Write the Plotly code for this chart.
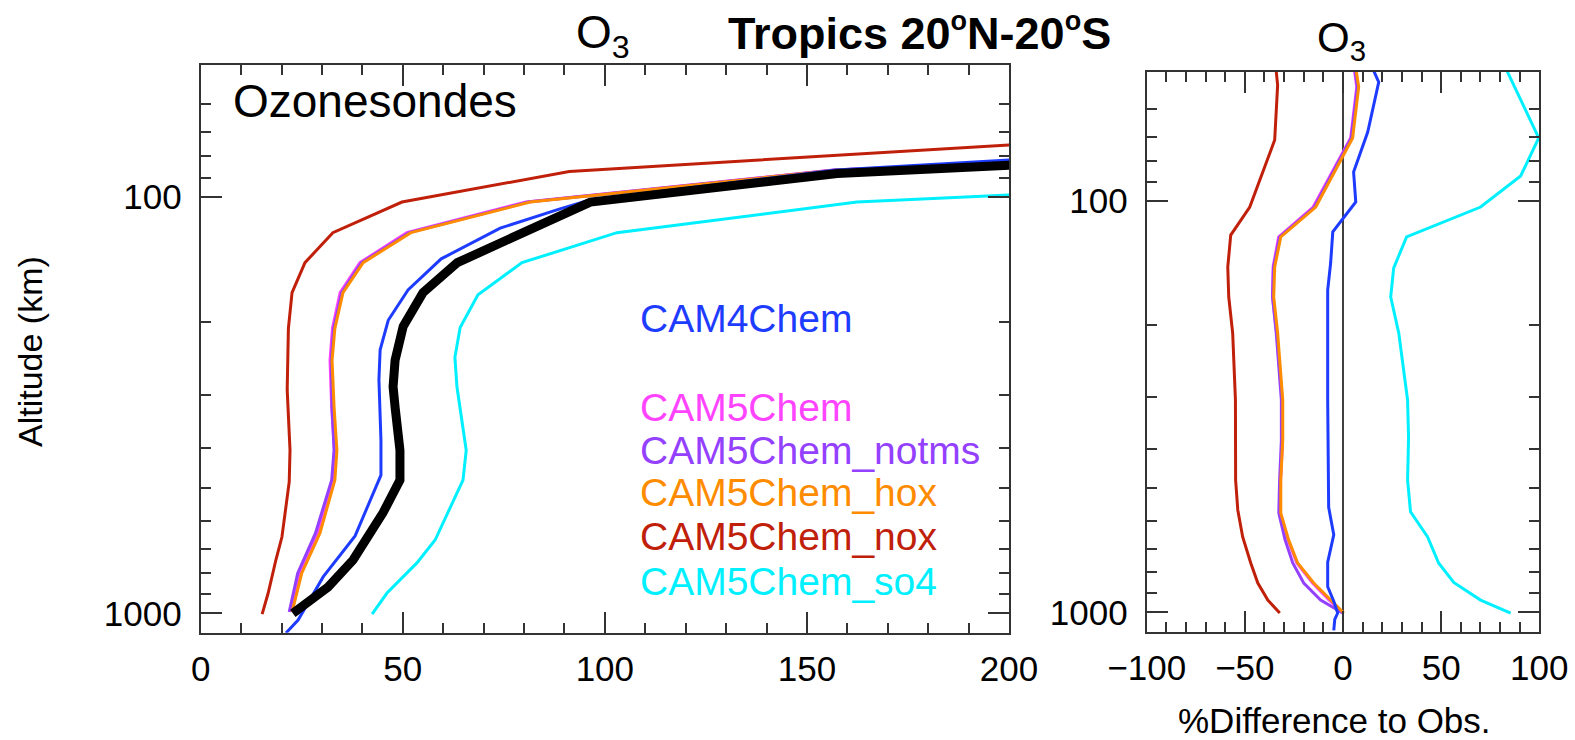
import plotly.graph_objects as go

# ---------------- data ----------------
# Left panel: O3 mixing ratio (ppb) versus pressure level (hPa)
obs_p  = [1000, 865, 745, 574, 479, 406, 320, 286, 247, 205, 170, 144, 103, 88, 84]
obs_o3 = [22.8, 31.5, 37.7, 45.1, 49.3, 49.3, 48.1, 47.6, 48.1, 50.1, 55.0, 63.5, 96.4, 157.5, 200.3]

cam4_p  = [1115, 1038, 818, 652, 466, 384, 275, 233, 198, 167.5, 141, 119, 107, 101.8, 86.3, 81.6]
cam4_o3 = [21.1, 24.1, 30.3, 38.2, 44.6, 44.6, 44.1, 44.4, 46.4, 51.3, 59.5, 74.1, 88.9, 96.3, 157.2, 200.3]

cam5_p      = [993, 801, 642, 479, 406, 320, 247, 207, 170, 144, 122, 103, 86.3, 83.0]
cam5_o3     = [22.3, 24.4, 28.9, 32.6, 33.1, 32.4, 32.0, 32.6, 34.5, 39.4, 51.0, 80.5, 156.5, 200.3]
notms_o3    = [21.9, 24.0, 28.4, 32.4, 33.0, 32.5, 32.3, 32.9, 34.9, 39.8, 51.6, 81.0, 157.0, 200.3]
hox_o3      = [22.6, 25.0, 29.5, 33.2, 33.7, 33.0, 32.5, 33.2, 35.2, 40.2, 52.0, 81.5, 157.5, 200.3]

nox_p  = [1005, 894, 745, 656, 484, 406, 291, 233, 207, 170, 144, 122, 103, 87.0, 75.1]
nox_o3 = [15.2, 16.7, 18.6, 20.1, 21.9, 22.1, 21.4, 21.5, 21.7, 22.6, 25.8, 32.7, 49.8, 91.2, 200.3]

so4_p  = [1004, 894, 757, 667, 479, 406, 286, 243, 206, 172, 144, 122, 103, 99.1]
so4_o3 = [42.4, 46.1, 53.5, 58.0, 64.9, 65.7, 63.4, 62.9, 64.2, 68.6, 79.5, 103.0, 162.4, 200.3]

# Right panel: % difference to observations versus pressure level (hPa)
d_cam4_p = [47, 51.5, 68.1, 85.2, 100.7, 119, 141.7, 164.8, 305, 556, 648, 755, 867, 940, 1004, 1040, 1106]
d_cam4   = [14.5, 18.2, 12.6, 5.4, 6.5, -5.2, -6.3, -7.8, -7.8, -7.3, -4.7, -7.8, -7.8, -4.7, -2.7, -4.2, -4.7]

d_cam5_p  = [47, 52.9, 70.4, 103.6, 122.5, 144.9, 171.4, 209.6, 305, 382, 477, 574, 667, 759, 849, 934, 1004]
d_cam5    = [5.5, 7.0, 3.9, -15.2, -32.8, -35.6, -35.9, -33.8, -31.0, -30.8, -31.8, -31.9, -28.0, -23.5, -15.5, -7.0, 0.0]
d_notms   = [5.8, 7.3, 4.2, -14.6, -32.3, -35.4, -35.9, -34.0, -31.4, -31.4, -32.3, -32.7, -29.5, -25.6, -20.0, -11.4, -0.2]
d_hox     = [6.3, 8.0, 4.9, -13.9, -31.7, -34.8, -35.3, -33.3, -30.7, -30.7, -31.7, -31.7, -27.7, -23.1, -14.9, -6.3, 0.4]

d_nox_p = [47, 52.4, 71.2, 103.6, 121.2, 144.9, 171.4, 209.6, 305, 477, 564, 656, 759, 849, 934, 1004]
d_nox   = [-34.3, -33.3, -34.8, -47.5, -57.2, -58.7, -58.2, -56.2, -54.8, -54.7, -53.6, -51.1, -47.0, -43.4, -38.3, -32.2]

d_so4_p = [47, 70.4, 87.1, 103.6, 122.5, 145.8, 171.4, 209.6, 305, 376, 477, 570, 656, 759, 846, 934, 1004]
d_so4   = [82.3, 99.7, 90.5, 70.1, 32.4, 25.8, 24.3, 28.4, 32.9, 33.4, 32.9, 34.4, 43.1, 48.7, 56.4, 70.1, 85.4]

names  = ["CAM4Chem", "CAM5Chem", "CAM5Chem_notms", "CAM5Chem_hox", "CAM5Chem_nox", "CAM5Chem_so4"]
colors = {"CAM4Chem": "#1e3cff", "CAM5Chem": "#ff44ff", "CAM5Chem_notms": "#9440ff",
          "CAM5Chem_hox": "#ff8c00", "CAM5Chem_nox": "#c0200a", "CAM5Chem_so4": "#00f0ff"}

y_major = [100, 1000]
y_minor = [60, 70, 80, 90, 200, 300, 400, 500, 600, 700, 800, 900]

FONT = "Liberation Sans, Arial, Helvetica, sans-serif"
W, H = 1575, 740

fig = go.Figure()

# left panel (draw order: so4, nox, cam5 variants, cam4, obs on top)
left = [
    ("CAM5Chem_so4", so4_o3, so4_p),
    ("CAM5Chem_nox", nox_o3, nox_p),
    ("CAM5Chem", cam5_o3, cam5_p),
    ("CAM5Chem_notms", notms_o3, cam5_p),
    ("CAM5Chem_hox", hox_o3, cam5_p),
    ("CAM4Chem", cam4_o3, cam4_p),
]
for n, x, y in left:
    fig.add_trace(go.Scatter(x=x, y=y, mode="lines", name=n, showlegend=False,
                             line=dict(color=colors[n], width=3), xaxis="x", yaxis="y"))
fig.add_trace(go.Scatter(x=obs_o3, y=obs_p, mode="lines", name="Ozonesondes", showlegend=False,
                         line=dict(color="black", width=9), xaxis="x", yaxis="y"))

right = [
    ("CAM5Chem_so4", d_so4, d_so4_p),
    ("CAM5Chem_nox", d_nox, d_nox_p),
    ("CAM5Chem", d_cam5, d_cam5_p),
    ("CAM5Chem_notms", d_notms, d_cam5_p),
    ("CAM5Chem_hox", d_hox, d_cam5_p),
    ("CAM4Chem", d_cam4, d_cam4_p),
]
for n, x, y in right:
    fig.add_trace(go.Scatter(x=x, y=y, mode="lines", name=n, showlegend=False,
                             line=dict(color=colors[n], width=3), xaxis="x2", yaxis="y2"))

frame = dict(showline=True, linecolor="#333", linewidth=2, mirror="ticks", ticks="inside",
             tickcolor="#333", tickwidth=2, ticklen=21, showgrid=False, zeroline=False,
             automargin=False, tickfont=dict(family=FONT, size=35, color="black"))
minor = dict(ticks="inside", ticklen=10, tickcolor="#333", tickwidth=2, showgrid=False)

fig.update_layout(
    width=W, height=H, margin=dict(l=0, r=0, t=0, b=0, autoexpand=False),
    paper_bgcolor="white", plot_bgcolor="white", showlegend=False,
    xaxis=dict(domain=[200.7 / W, 1009 / W], range=[0, 200], tickvals=[0, 50, 100, 150, 200],
               minor=dict(dtick=10, **minor), anchor="y", ticklabelstandoff=4, **frame),
    yaxis=dict(domain=[1 - 632.7 / H, 1 - 65 / H], type="log", range=[3.0466, 1.6839],
               tickvals=y_major, ticktext=[str(v) for v in y_major],
               minor=dict(tickvals=y_minor, **minor), anchor="x", ticklabelstandoff=10, **frame),
    xaxis2=dict(domain=[1146.7 / W, 1539.3 / W], range=[-100, 100], tickvals=[-100, -50, 0, 50, 100],
                minor=dict(dtick=10, **minor), anchor="y2", ticklabelstandoff=4, **frame),
    yaxis2=dict(domain=[1 - 631.7 / H, 1 - 71.7 / H], type="log", range=[3.0471, 1.6866],
                tickvals=y_major, ticktext=[str(v) for v in y_major],
                minor=dict(tickvals=y_minor, **minor), anchor="x2", ticklabelstandoff=10, **frame),
)

fig.add_shape(type="line", xref="x2", yref="y2 domain", x0=0, x1=0, y0=0, y1=1,
              line=dict(color="black", width=1.5), layer="below")

def ann(text, x, y, size, color="black", xanchor="center", yanchor="middle", angle=0):
    fig.add_annotation(text=text, x=x / W, y=1 - y / H, xref="paper", yref="paper",
                       showarrow=False, xanchor=xanchor, yanchor=yanchor, textangle=angle,
                       font=dict(family=FONT, size=size, color=color))

deg = "<sup><span style='font-size:27px'>o</span></sup>"
ann("<b>Tropics 20" + deg + "N-20" + deg + "S</b>", 919, 33, 45)
ann("O<sub>3</sub>", 603, 36, 46)
ann("O<sub>3</sub>", 1341, 40, 42)
ann("Ozonesondes", 231, 101, 46, xanchor="left")
ann("Altitude (km)", 30, 352, 34, angle=-90)
ann("%Difference to Obs.", 1334, 720, 35)

legend_y = [319, 407, 450, 492, 536, 581]
for n, yy in zip(names, legend_y):
    ann(n, 638, yy, 39, color=colors[n], xanchor="left")

fig.write_html("out.html")
